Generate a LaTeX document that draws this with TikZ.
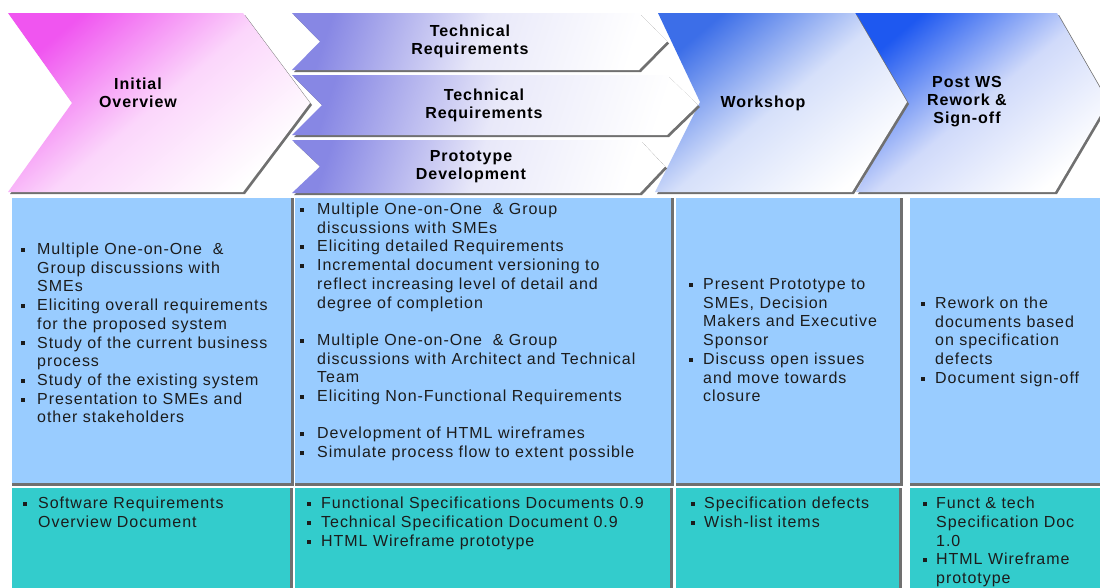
\documentclass[tikz,border=0pt]{standalone}
\usepackage{fontspec}
\setmainfont{Liberation Sans}[LetterSpace=6.0]
\definecolor{bodyblue}{RGB}{153,204,255}
\definecolor{tealbox}{RGB}{51,204,204}
\definecolor{shad}{RGB}{112,112,112}
\definecolor{txt}{RGB}{28,28,28}
\definecolor{magtop}{RGB}{240,85,240}
\definecolor{magmid}{RGB}{251,214,251}
\definecolor{lavtop}{RGB}{135,135,228}
\definecolor{lavmid}{RGB}{232,232,249}
\definecolor{wstop}{RGB}{60,110,232}
\definecolor{wsmid}{RGB}{214,224,250}
\definecolor{pwtop}{RGB}{30,88,240}
\definecolor{pwmid}{RGB}{208,218,250}
\newlength\bulind
\newcommand\bul{\makebox[\bulind][l]{\raisebox{2.6pt}{\rule{3.6pt}{4pt}}}}
\newcommand\ind{\hspace*{\bulind}}
\newcommand\lst[1]{\begin{tabular}[t]{@{}l@{}}#1\end{tabular}}
\tikzset{
  listtext/.style={anchor=base west, inner sep=0pt, text=txt,
    font=\fontsize{16}{18.7}\selectfont,
    execute at begin node={\setlength\bulind{#1}}},
  lowtext/.style={listtext=#1, font=\fontsize{16}{18.8}\selectfont},
  headtext/.style={align=center, inner sep=0pt, text=black,
    font=\bfseries\fontsize{16}{18}\selectfont},
  shadowfill/.style={fill=shad},
  initshade/.style={top color=magtop, bottom color=white, middle color=magmid, shading angle=40},
  midshade/.style={left color=lavtop, right color=white, middle color=lavmid, shading angle=72},
  wsshade/.style={top color=wstop, bottom color=white, middle color=wsmid, shading angle=40},
  pwshade/.style={top color=pwtop, bottom color=white, middle color=pwmid, shading angle=40}
}
\begin{document}
\begin{tikzpicture}[x=1pt,y=-1pt]
\useasboundingbox (0,0) rectangle (1100,587);
\clip (0,0) rectangle (1100,587);
\fill[white] (0,0) rectangle (1100,587);

% ---------- chevrons ----------
% Post WS
\fill[shadowfill] ([shift={(2,2)}]855,13) -- ([shift={(2,2)}]1057,13) -- ([shift={(2,2)}]1108,102) -- ([shift={(2,2)}]1055,192) -- ([shift={(2,2)}]856,192) -- ([shift={(2,2)}]907,102) -- cycle;
\shade[pwshade] (855,13) -- (1057,13) -- (1108,102) -- (1055,192) -- (856,192) -- (907,102) -- cycle;
% Workshop
\fill[shadowfill] ([shift={(2,2)}]658,13) -- ([shift={(2,2)}]855,13) -- ([shift={(2,2)}]907,102) -- ([shift={(2,2)}]852,192) -- ([shift={(2,2)}]655,192) -- ([shift={(2,2)}]700,102) -- cycle;
\shade[wsshade] (658,13) -- (855,13) -- (907,102) -- (852,192) -- (655,192) -- (700,102) -- cycle;
% middle chevrons
\fill[shadowfill] ([shift={(2,2)}]292,13) -- ([shift={(2,2)}]639,13) -- ([shift={(2,2)}]667,41.5) -- ([shift={(2,2)}]639,70) -- ([shift={(2,2)}]292,70) -- ([shift={(2,2)}]320,41.5) -- cycle;
\shade[midshade] (292,13) -- (639,13) -- (667,41.5) -- (639,70) -- (292,70) -- (320,41.5) -- cycle;
\fill[shadowfill] ([shift={(2,2)}]292,75) -- ([shift={(2,2)}]667,75) -- ([shift={(2,2)}]698,105) -- ([shift={(2,2)}]667,135) -- ([shift={(2,2)}]292,135) -- ([shift={(2,2)}]322,105) -- cycle;
\shade[midshade] (292,75) -- (667,75) -- (698,105) -- (667,135) -- (292,135) -- (322,105) -- cycle;
\fill[shadowfill] ([shift={(2,2)}]292,140) -- ([shift={(2,2)}]640,140) -- ([shift={(2,2)}]665,166.5) -- ([shift={(2,2)}]640,193) -- ([shift={(2,2)}]292,193) -- ([shift={(2,2)}]320,166.5) -- cycle;
\shade[midshade] (292,140) -- (640,140) -- (665,166.5) -- (640,193) -- (292,193) -- (320,166.5) -- cycle;
% Initial overview
\fill[shadowfill] ([shift={(2,2)}]8,13) -- ([shift={(2,2)}]243,13) -- ([shift={(2,2)}]310,103) -- ([shift={(2,2)}]243,192) -- ([shift={(2,2)}]8,192) -- ([shift={(2,2)}]72,103) -- cycle;
\shade[initshade] (8,13) -- (243,13) -- (310,103) -- (243,192) -- (8,192) -- (72,103) -- cycle;

% header texts
\node[headtext] (hinit) at (138,92.5) {Initial\\Overview};
\node[headtext] (htech1) at (470,41.5) {Technical\\Requirements};
\node[headtext] (htech2) at (484,105) {Technical\\Requirements};
\node[headtext] (hproto) at (471,167) {Prototype\\Development};
\node[headtext] (hws) at (763,103) {Workshop};
\node[headtext] (hpost) at (967,102) {Post WS\\Rework \&\\Sign-off};

% ---------- body boxes ----------
\fill[shadowfill] (12,198) rectangle (294,486);
\fill[bodyblue] (12,198) rectangle (291,483);
\fill[shadowfill] (295,198) rectangle (674,486);
\fill[bodyblue] (295,198) rectangle (671,483);
\fill[shadowfill] (676,198) rectangle (903,486);
\fill[bodyblue] (676,198) rectangle (900,483);
\fill[shadowfill] (910,198) rectangle (1103,486);
\fill[bodyblue] (910,198) rectangle (1100,483);

% ---------- deliverable boxes ----------
\fill[shadowfill] (12,488) rectangle (293,590);
\fill[tealbox] (12,488) rectangle (290,590);
\fill[shadowfill] (295,488) rectangle (673,590);
\fill[tealbox] (295,488) rectangle (670,590);
\fill[shadowfill] (676,488) rectangle (902,590);
\fill[tealbox] (676,488) rectangle (899,590);
\fill[tealbox] (910,488) rectangle (1100,590);

% ---------- body texts ----------
\node[listtext=16pt] (b1) at (21,254.5) {\lst{\bul Multiple One-on-One~ \&\\
\ind Group discussions with\\
\ind SMEs\\
\bul Eliciting overall requirements\\
\ind for the proposed system\\
\bul Study of the current business\\
\ind process\\
\bul Study of the existing system\\
\bul Presentation to SMEs and\\
\ind other stakeholders}};

\node[listtext=17pt] (b2) at (300,214.5) {\lst{\bul Multiple One-on-One~ \& Group\\
\ind discussions with SMEs\\
\bul Eliciting detailed Requirements\\
\bul Incremental document versioning to\\
\ind reflect increasing level of detail and\\
\ind degree of completion\\[18.7pt]
\bul Multiple One-on-One~ \& Group\\
\ind discussions with Architect and Technical\\
\ind Team\\
\bul Eliciting Non-Functional Requirements\\[18.7pt]
\bul Development of HTML wireframes\\
\bul Simulate process flow to extent possible}};

\node[listtext=14pt] (b3) at (689,289.5) {\lst{\bul Present Prototype to\\
\ind SMEs, Decision\\
\ind Makers and Executive\\
\ind Sponsor\\
\bul Discuss open issues\\
\ind and move towards\\
\ind closure}};

\node[listtext=14pt] (b4) at (921,308.5) {\lst{\bul Rework on the\\
\ind documents based\\
\ind on specification\\
\ind defects\\
\bul Document sign-off}};

% ---------- deliverable texts ----------
\node[lowtext=15pt] (d1) at (23,508.5) {\lst{\bul Software Requirements\\
\ind Overview Document}};
\node[lowtext=14pt] (d2) at (307,508.5) {\lst{\bul Functional Specifications Documents 0.9\\
\bul Technical Specification Document 0.9\\
\bul HTML Wireframe prototype}};
\node[lowtext=13pt] (d3) at (691,508.5) {\lst{\bul Specification defects\\
\bul Wish-list items}};
\node[lowtext=13pt] (d4) at (923,508.5) {\lst{\bul Funct \& tech\\
\ind Specification Doc\\
\ind 1.0\\
\bul HTML Wireframe\\
\ind prototype}};
\end{tikzpicture}
\end{document}
